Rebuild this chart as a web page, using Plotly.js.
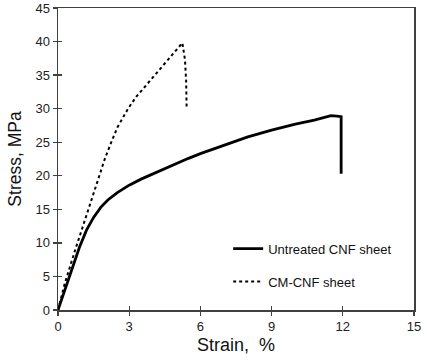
<!DOCTYPE html>
<html>
<head>
<meta charset="utf-8">
<script src="https://cdn.plot.ly/plotly-3.0.1.min.js"></script>
<style>html,body{margin:0;padding:0;background:#fff;}#chart{width:427px;height:360px;}</style>
</head>
<body>
<div id="chart"></div>
<script>
const untreatedStrain = [0, 0.3, 0.6, 0.9, 1.2, 1.5, 1.8, 2.1, 2.5, 3.0, 3.5, 4.0, 4.5, 5.0, 5.5, 6.0, 7.0, 8.0, 9.0, 10.0, 10.8, 11.5, 11.75, 11.93, 11.93];
const untreatedStress = [0, 3.1, 6.3, 9.3, 11.9, 13.8, 15.3, 16.4, 17.5, 18.6, 19.5, 20.3, 21.1, 21.8, 22.6, 23.3, 24.6, 25.8, 26.8, 27.7, 28.3, 28.95, 28.9, 28.8, 20.3];
const cmStrain = [0, 0.29, 0.72, 1.0, 1.28, 1.6, 1.98, 2.2, 2.5, 2.96, 3.3, 3.67, 4.1, 4.51, 4.9, 5.24, 5.35, 5.4, 5.42];
const cmStress = [0, 4.0, 8.9, 12.0, 14.9, 18.6, 22.6, 24.6, 27.2, 30.05, 31.8, 33.3, 35.1, 36.8, 38.3, 39.8, 37.3, 34.0, 30.0];
const xTicks = [0, 3, 6, 9, 12, 15];
const yTicks = [0, 5, 10, 15, 20, 25, 30, 35, 40, 45];
const seriesNames = ["Untreated CNF sheet", "CM-CNF sheet"];

const axisColor = '#404040';
const data = [
  {x: untreatedStrain, y: untreatedStress, mode: 'lines', name: seriesNames[0], legendgroup: 'a',
   line: {color: '#000', width: 2.8}},
  {x: cmStrain, y: cmStress, mode: 'lines', name: seriesNames[1], legendgroup: 'b',
   line: {color: '#000', width: 2, dash: 'dot'}},
  {x: [], y: [], xaxis: 'x2', yaxis: 'y2', showlegend: false, hoverinfo: 'skip'}
];
const baseAxis = {
  showgrid: false, zeroline: false, showline: true, linecolor: axisColor, linewidth: 1.5,
  ticks: 'outside', ticklen: 4, tickwidth: 1.3, tickcolor: axisColor, mirror: true,
  tickfont: {family: 'Liberation Sans, Arial', size: 13, color: '#222'}
};
const layout = {
  width: 427, height: 360,
  margin: {l: 58, r: 13, t: 8, b: 50},
  paper_bgcolor: '#fff', plot_bgcolor: '#fff',
  showlegend: true,
  legend: {x: 0.478, y: 0.253, xanchor: 'left', yanchor: 'top', bgcolor: 'rgba(0,0,0,0)',
    font: {family: 'Liberation Sans, Arial', size: 13, color: '#111'},
    traceorder: 'grouped', tracegroupgap: 13, itemwidth: 30},
  xaxis: Object.assign({}, baseAxis, {range: [0, 15], tickvals: xTicks, ticktext: xTicks.map(String),
    title: {text: 'Strain,  %', font: {family: 'Liberation Sans, Arial', size: 18, color: '#111'}, standoff: 5}}),
  yaxis: Object.assign({}, baseAxis, {range: [0, 45], tickvals: yTicks, ticktext: yTicks.map(String),
    title: {text: 'Stress, MPa', font: {family: 'Liberation Sans, Arial', size: 17.5, color: '#111'}, standoff: 9}}),
  xaxis2: {overlaying: 'x', range: [0, 15], tickvals: xTicks, showticklabels: false, ticks: 'inside', ticklen: 4,
    tickwidth: 1.3, tickcolor: axisColor, showgrid: false, zeroline: false, showline: false, side: 'bottom'},
  yaxis2: {overlaying: 'y', range: [0, 45], tickvals: yTicks, showticklabels: false, ticks: 'inside', ticklen: 4,
    tickwidth: 1.3, tickcolor: axisColor, showgrid: false, zeroline: false, showline: false, side: 'left'}
};
Plotly.newPlot('chart', data, layout, {displayModeBar: false, staticPlot: true});
</script>
</body>
</html>
